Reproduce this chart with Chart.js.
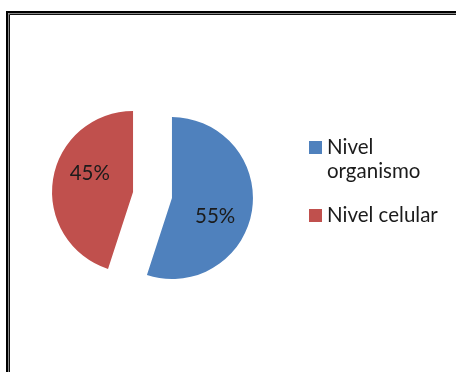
<!DOCTYPE html>
<html>
<head>
<meta charset="utf-8">
<script src="https://cdn.jsdelivr.net/npm/chart.js@4.4.1/dist/chart.umd.min.js"></script>
<style>
  html, body { margin: 0; padding: 0; background: #fff; }
  #wrap { position: relative; width: 456px; height: 372px; }
</style>
</head>
<body>
<div id="wrap"><canvas id="chart-pie" width="456" height="372"></canvas></div>
<script>
// legend entries (one array item per line of text)
const categories = [['Nivel', 'organismo'], ['Nivel celular']];
const shares = [55, 45];
const sliceColors = ['#4F81BD', '#C0504D'];

const FONT = 'Lato, "Open Sans", sans-serif';
const EXPLODE = 19.7;

// pull each slice out along its middle angle
const explodePlugin = {
  id: 'explode',
  afterDatasetUpdate(chart, args) {
    args.meta.data.forEach((arc) => {
      const mid = (arc.startAngle + arc.endAngle) / 2;
      arc.x += Math.cos(mid) * EXPLODE;
      arc.y += Math.sin(mid) * EXPLODE;
    });
  },
};

// percentage labels inside the slices
const sliceLabels = {
  id: 'sliceLabels',
  afterDatasetsDraw(chart) {
    const { ctx } = chart;
    const arcs = chart.getDatasetMeta(0).data;
    ctx.save();
    ctx.font = `20.5px ${FONT}`;
    ctx.fillStyle = '#1b1b1b';
    ctx.textAlign = 'center';
    ctx.textBaseline = 'middle';
    arcs.forEach((arc, i) => {
      const ang = (arc.startAngle + arc.endAngle) / 2 + 0.245;
      const r = arc.outerRadius * 0.58;
      ctx.fillText(`${shares[i]}%`, arc.x + Math.cos(ang) * r, arc.y + Math.sin(ang) * r);
    });
    ctx.restore();
  },
};

// legend on the right, first entry wraps to two lines
const sideLegend = {
  id: 'sideLegend',
  afterDraw(chart) {
    const { ctx } = chart;
    const boxX = 309;
    const textX = 327;
    const lineH = 24;
    let top = 141;
    ctx.save();
    ctx.font = `20.5px ${FONT}`;
    ctx.textBaseline = 'alphabetic';
    categories.forEach((lines, i) => {
      ctx.fillStyle = sliceColors[i];
      ctx.fillRect(boxX, top, 13, 13);
      ctx.fillStyle = '#1b1b1b';
      lines.forEach((line, k) => ctx.fillText(line, textX, top + 13 + k * lineH));
      top += lines.length * lineH + 20;
    });
    ctx.restore();
  },
};

// double-line frame running off the right and bottom edges
const frame = {
  id: 'frame',
  afterDraw(chart) {
    const { ctx } = chart;
    ctx.save();
    const rules = [
      { pos: 8, w: 2, c: '#000' },
      { pos: 9.5, w: 1, c: '#8a8a8a' },
      { pos: 10.5, w: 1, c: '#111' },
    ];
    rules.forEach(({ pos, w, c }) => {
      ctx.strokeStyle = c;
      ctx.lineWidth = w;
      ctx.beginPath();
      ctx.moveTo(pos - 1, 400);
      ctx.lineTo(pos - 1, pos + 4);
      ctx.lineTo(480, pos + 4);
      ctx.stroke();
    });
    ctx.restore();
  },
};

const ctx = document.getElementById('chart-pie').getContext('2d');
new Chart(ctx, {
  type: 'pie',
  data: {
    labels: categories.map((l) => l.join(' ')),
    datasets: [{
      data: shares,
      backgroundColor: sliceColors,
      borderWidth: 0,
    }],
  },
  options: {
    responsive: false,
    animation: false,
    events: [],
    radius: 81,
    layout: { padding: { left: 60, right: 211, top: 80, bottom: 62 } },
    plugins: {
      legend: { display: false },
      tooltip: { enabled: false },
    },
  },
  plugins: [explodePlugin, sliceLabels, sideLegend, frame],
});
</script>
</body>
</html>
